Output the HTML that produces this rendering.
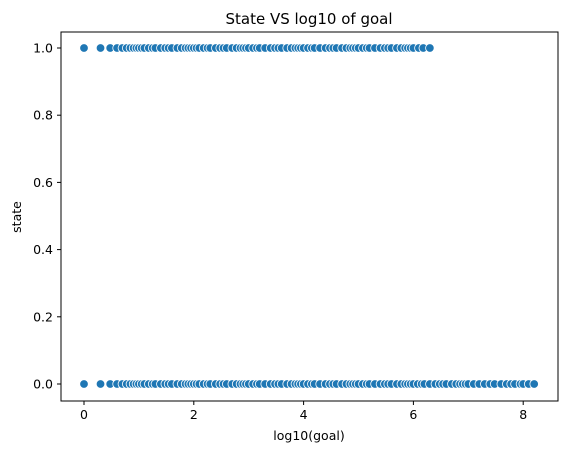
<!DOCTYPE html>
<html><head><meta charset="utf-8"><style>
body{margin:0;background:#fff;width:567px;height:455px;overflow:hidden}
text{font-family:"DejaVu Sans","Liberation Sans",sans-serif;fill:#000}
</style></head><body>
<svg id="chart" width="567" height="455">
<text x="309" y="24" font-size="15" text-anchor="middle">State VS log10 of goal</text>
<g id="marks"></g>
<g id="axes"></g>
<rect x="61" y="32" width="497" height="369" fill="none" stroke="#000" stroke-width="1"/>
<text x="309" y="440" font-size="12.5" text-anchor="middle">log10(goal)</text>
<text x="0" y="0" font-size="12.5" text-anchor="middle" transform="translate(21,217) rotate(-90)">state</text>
</svg>
<script>
const xTicks=[0,2,4,6,8];
const yTicks=[0.0,0.2,0.4,0.6,0.8,1.0];
const successGoals=[0,0.301,0.477,0.602,0.699,0.778,0.845,0.903,0.954,1.0,1.05,1.1,1.18,1.25,1.3,1.4,1.48,1.54,1.6,1.7,1.78,1.85,1.9,1.95,2.0,2.05,2.1,2.18,2.25,2.3,2.4,2.48,2.54,2.6,2.7,2.78,2.85,2.9,2.95,3.0,3.08,3.15,3.2,3.3,3.4,3.48,3.54,3.6,3.7,3.78,3.85,3.9,3.95,4.0,4.08,4.15,4.2,4.3,4.4,4.48,4.54,4.6,4.7,4.78,4.85,4.9,4.95,5.0,5.08,5.15,5.2,5.3,5.4,5.48,5.54,5.6,5.7,5.78,5.85,5.9,5.95,6.0,6.1,6.18,6.3];
const failedGoals=[0,0.301,0.477,0.602,0.699,0.778,0.845,0.903,0.954,1.0,1.05,1.1,1.18,1.25,1.3,1.4,1.48,1.54,1.6,1.7,1.78,1.85,1.9,1.95,2.0,2.05,2.1,2.18,2.25,2.3,2.4,2.48,2.54,2.6,2.7,2.78,2.85,2.9,2.95,3.0,3.08,3.15,3.2,3.3,3.4,3.48,3.54,3.6,3.7,3.78,3.85,3.9,3.95,4.0,4.08,4.15,4.2,4.3,4.4,4.48,4.54,4.6,4.7,4.78,4.85,4.9,4.95,5.0,5.08,5.15,5.2,5.3,5.4,5.48,5.54,5.6,5.7,5.78,5.85,5.9,5.95,6.0,6.08,6.15,6.2,6.3,6.4,6.48,6.54,6.6,6.7,6.78,6.85,6.9,6.95,7.0,7.1,7.2,7.3,7.4,7.48,7.6,7.7,7.78,7.85,7.95,8.0,8.1,8.2];
const NS='http://www.w3.org/2000/svg';
function sx(v){return 84+v*54.9;}
function sy(v){return 384-v*336;}
const marks=document.getElementById('marks');
function dot(x,y,name){
 const c=document.createElementNS(NS,'circle');
 c.setAttribute('cx',sx(x));c.setAttribute('cy',sy(y));c.setAttribute('r',4.3);
 c.setAttribute('fill','#1f77b4');c.setAttribute('stroke','#fff');c.setAttribute('stroke-width','0.8');
 
 
 marks.appendChild(c);
}
successGoals.forEach(g=>dot(g,1,'point-successful'));
failedGoals.forEach(g=>dot(g,0,'point-failed'));
const axes=document.getElementById('axes');
xTicks.forEach(t=>{
 const l=document.createElementNS(NS,'line');
 l.setAttribute('x1',sx(t));l.setAttribute('x2',sx(t));l.setAttribute('y1',401);l.setAttribute('y2',405);l.setAttribute('stroke','#000');
 
 
 axes.appendChild(l);
 const tx=document.createElementNS(NS,'text');
 tx.setAttribute('x',sx(t));tx.setAttribute('y',419);tx.setAttribute('font-size','12.5');tx.setAttribute('text-anchor','middle');
 tx.textContent=t;
 
 
 axes.appendChild(tx);
});
yTicks.forEach(t=>{
 const l=document.createElementNS(NS,'line');
 l.setAttribute('x1',57);l.setAttribute('x2',61);l.setAttribute('y1',sy(t));l.setAttribute('y2',sy(t));l.setAttribute('stroke','#000');
 
 
 axes.appendChild(l);
 const tx=document.createElementNS(NS,'text');
 tx.setAttribute('x',53);tx.setAttribute('y',sy(t)+4.5);tx.setAttribute('font-size','12.5');tx.setAttribute('text-anchor','end');
 tx.textContent=t.toFixed(1);
 
 
 axes.appendChild(tx);
});
</script>
</body></html>
